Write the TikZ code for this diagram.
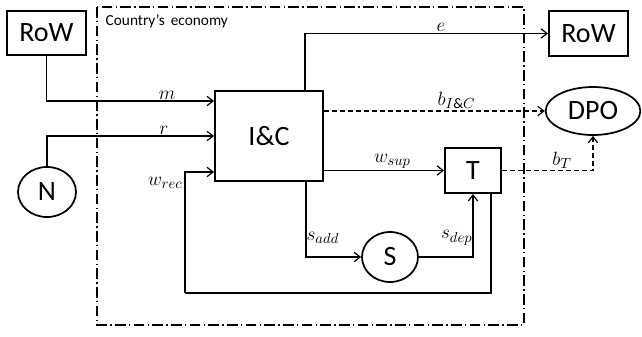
\documentclass[tikz,border=0pt]{standalone}
\usepackage{fontspec}
\setmainfont{Carlito}
\usetikzlibrary{positioning,arrows.meta,shapes.geometric}

\begin{document}
\begin{tikzpicture}[
  x=0.75pt, y=-0.75pt,
  box/.style={draw, line width=1.5pt, inner sep=0pt, font=\fontsize{21}{25}\selectfont},
  oval/.style={draw, ellipse, line width=1.3pt, inner sep=0pt, font=\fontsize{21}{25}\selectfont},
  arrow/.style={-{Straight Barb[length=4.5pt, width=7pt]}, line width=0.9pt},
  link/.style={line width=0.9pt},
  lbl/.style={font=\fontsize{15.5}{18}\selectfont, inner sep=1pt},
  frame/.style={line width=1.1pt, dash pattern=on 8pt off 2.5pt on 1pt off 2.5pt}
]
  \useasboundingbox (0,0) rectangle (642,336);

  % country boundary
  \draw[frame] (97,7) rectangle (524,325);
  \node[anchor=west, font=\fontsize{11.5}{14}\selectfont] (title) at (101,21) {Country’s\, economy};

  \node[box, minimum width=59.25pt, minimum height=33pt] (rowin) at (46.5,33) {RoW};
  \node[box, minimum width=59.25pt, minimum height=33.75pt] (rowout) at (588.5,33.5) {RoW};
  \node[box, minimum width=81pt, minimum height=67.5pt] (ic) at (269,136) {I\&C};
  \node[box, minimum width=42pt, minimum height=33.75pt] (t) at (473,170.5) {T};
  \node[oval, minimum width=71pt, minimum height=36pt] (dpo) at (593,111) {DPO};
  \node[oval, minimum width=43.5pt, minimum height=37.5pt] (n) at (47,192) {N};
  \node[oval, minimum width=42pt, minimum height=37.5pt] (s) at (390,257) {S};
  \coordinate (loop) at (185,293);

  \draw[arrow] (rowin.south) |- node[lbl, pos=0.86, above] {$m$} (ic.west |- 0,101);
  \draw[arrow] (n.north) |- node[lbl, pos=0.85, above] {$r$} (ic.west);
  \draw[arrow] (ic.north -| 305,0) |- node[lbl, pos=0.78, above] {$e$} (rowout.west);
  \draw[arrow, dashed, dash pattern=on 3.5pt off 2.5pt] (dpo.west -| ic.east) -- node[lbl, pos=0.6, above] {$b_{I\&C}$} (dpo.west);
  \draw[arrow] (t.west -| ic.east) -- node[lbl, pos=0.57, above] {$w_{sup}$} (t.west);
  \draw[arrow, dashed, dash pattern=on 3.5pt off 2.5pt] (t.east) -| node[lbl, pos=0.33, above] {$b_T$} (dpo.south);
  \draw[arrow] (ic.south -| 306,0) |- (s.west);
  \draw[arrow] (s.east) -| (t.south);
  \draw[link] (t.south -| 491,0) |- (loop);
  \draw[arrow] (loop) |- (ic.west |- 0,172);

  \node[lbl, anchor=east] (wrec) at (184,183) {$w_{rec}$};
  \node[lbl, anchor=west] (sadd) at (305,238) {$s_{add}$};
  \node[lbl, anchor=east] (sdep) at (474,238) {$s_{dep}$};
\end{tikzpicture}
\end{document}
